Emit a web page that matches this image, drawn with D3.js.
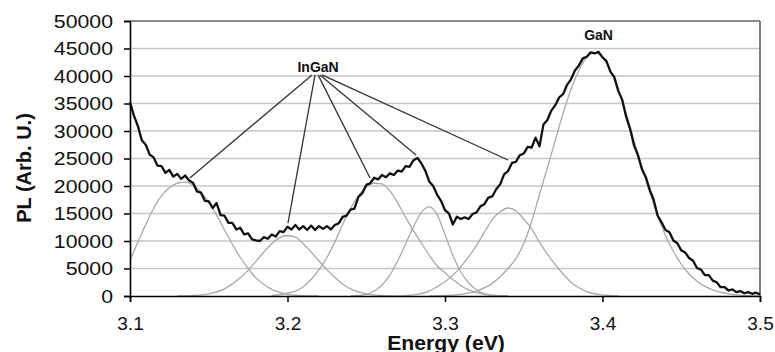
<!DOCTYPE html>
<html>
<head>
<meta charset="utf-8">
<script src="https://cdn.jsdelivr.net/npm/d3@7"></script>
<style>
    body { margin: 0; background: #fff; }
    text { font-family: "Liberation Sans", Arial, sans-serif; }
</style>
</head>
<body>
<div id="chart"></div>
<script>
// measured PL spectrum (black trace)
var measEnergy = [3.1000, 3.1025, 3.1050, 3.1075, 3.1100, 3.1125, 3.1150, 3.1175, 3.1200, 3.1225,
    3.1250, 3.1275, 3.1300, 3.1325, 3.1350, 3.1375, 3.1400, 3.1425, 3.1450, 3.1475,
    3.1500, 3.1525, 3.1550, 3.1575, 3.1600, 3.1625, 3.1650, 3.1675, 3.1700, 3.1725,
    3.1750, 3.1775, 3.1800, 3.1825, 3.1850, 3.1875, 3.1900, 3.1925, 3.1950, 3.1975,
    3.2000, 3.2025, 3.2050, 3.2075, 3.2100, 3.2125, 3.2150, 3.2175, 3.2200, 3.2225,
    3.2250, 3.2275, 3.2300, 3.2325, 3.2350, 3.2375, 3.2400, 3.2425, 3.2450, 3.2475,
    3.2500, 3.2525, 3.2550, 3.2575, 3.2600, 3.2625, 3.2650, 3.2675, 3.2700, 3.2725,
    3.2750, 3.2775, 3.2800, 3.2825, 3.2850, 3.2875, 3.2900, 3.2925, 3.2950, 3.2975,
    3.3000, 3.3025, 3.3050, 3.3075, 3.3100, 3.3125, 3.3150, 3.3175, 3.3200, 3.3225,
    3.3250, 3.3275, 3.3300, 3.3325, 3.3350, 3.3375, 3.3400, 3.3425, 3.3450, 3.3475,
    3.3500, 3.3525, 3.3550, 3.3575, 3.3600, 3.3625, 3.3650, 3.3675, 3.3700, 3.3725,
    3.3750, 3.3775, 3.3800, 3.3825, 3.3850, 3.3875, 3.3900, 3.3925, 3.3950, 3.3975,
    3.4000, 3.4025, 3.4050, 3.4075, 3.4100, 3.4125, 3.4150, 3.4175, 3.4200, 3.4225,
    3.4250, 3.4275, 3.4300, 3.4325, 3.4350, 3.4375, 3.4400, 3.4425, 3.4450, 3.4475,
    3.4500, 3.4525, 3.4550, 3.4575, 3.4600, 3.4625, 3.4650, 3.4675, 3.4700, 3.4725,
    3.4750, 3.4775, 3.4800, 3.4825, 3.4850, 3.4875, 3.4900, 3.4925, 3.4950, 3.4975,
    3.5000];
var measPL = [35200, 32800, 30900, 28300, 27500, 25700, 25200, 23700, 23600, 22400,
    22900, 21700, 22200, 21300, 21900, 21000, 20600, 19000, 18800, 17300,
    17200, 16000, 16900, 14700, 14600, 13300, 13300, 12100, 12400, 11200,
    11400, 10300, 10100, 10000, 10700, 10400, 11200, 10800, 11800, 11600,
    12600, 12100, 12900, 12100, 12700, 12000, 12800, 12000, 12700, 12200,
    12700, 12100, 12900, 13200, 14400, 14600, 15700, 15900, 18000, 18700,
    20200, 20500, 21500, 21200, 22000, 21600, 22300, 22000, 22800, 22600,
    23600, 23500, 24700, 25100, 24100, 22800, 20800, 20000, 18400, 17300,
    15600, 15000, 13000, 14400, 14000, 14300, 14000, 14900, 15200, 16300,
    16700, 17900, 18100, 19400, 20300, 22100, 22700, 24200, 24400, 25600,
    25900, 27100, 27000, 28800, 27200, 31200, 32000, 33700, 34700, 36100,
    36700, 38400, 39400, 41000, 41900, 43200, 43500, 44300, 44100, 44400,
    43400, 42700, 40800, 39800, 37300, 35700, 32600, 30400, 27400, 25600,
    23100, 21600, 19300, 17500, 14600, 13400, 12000, 11600, 10100, 9600,
    8300, 7900, 6900, 6400, 5100, 4800, 3800, 3800, 2800, 2500,
    1600, 1600, 1000, 1200, 700, 900, 500, 700, 400, 600,
    300];

// fitted peaks (grey)
var g1Energy = [3.100, 3.105, 3.110, 3.115, 3.120, 3.125, 3.130, 3.135, 3.140, 3.145, 3.150, 3.155,
    3.160, 3.165, 3.170, 3.175, 3.180, 3.185, 3.190, 3.195, 3.200, 3.210, 3.220];
var g1PL = [6500, 9800, 13000, 15900, 18200, 19700, 20500, 20700, 20200, 18900, 17000, 14700,
    12000, 9400, 7000, 5000, 3300, 2100, 1200, 650, 300, 60, 0];

var g2Energy = [3.130, 3.140, 3.150, 3.160, 3.170, 3.175, 3.180, 3.185, 3.190, 3.195, 3.200,
    3.205, 3.210, 3.215, 3.220, 3.225, 3.230, 3.235, 3.240, 3.250, 3.260, 3.270];
var g2PL = [0, 100, 400, 1300, 3300, 4700, 6300, 8000, 9500, 10600, 11000,
    10700, 9500, 8000, 6400, 4800, 3400, 2200, 1300, 400, 100, 0];

var g3Energy = [3.190, 3.200, 3.205, 3.210, 3.215, 3.220, 3.225, 3.230, 3.235, 3.240, 3.245, 3.250,
    3.255, 3.260, 3.265, 3.270, 3.275, 3.280, 3.285, 3.290, 3.295, 3.300, 3.305, 3.310,
    3.315, 3.320, 3.330, 3.340];
var g3PL = [100, 500, 900, 1700, 3000, 4800, 7000, 9800, 13000, 15900, 18200, 19800,
    20500, 20400, 19100, 16900, 14300, 11900, 9600, 7400, 5500, 4200, 3000, 1900,
    1100, 600, 100, 0];

var g4Energy = [3.240, 3.250, 3.255, 3.260, 3.265, 3.270, 3.275, 3.280, 3.285, 3.290, 3.295,
    3.300, 3.305, 3.310, 3.315, 3.320, 3.325, 3.330, 3.340];
var g4PL = [0, 300, 900, 2000, 3800, 6400, 9500, 12600, 15200, 16200, 14800,
    11200, 7400, 4400, 2400, 1100, 450, 150, 0];

var g5Energy = [3.270, 3.280, 3.290, 3.295, 3.300, 3.305, 3.310, 3.315, 3.320, 3.325, 3.330, 3.335,
    3.340, 3.345, 3.350, 3.355, 3.360, 3.365, 3.370, 3.375, 3.380, 3.385, 3.390, 3.400, 3.410];
var g5PL = [0, 200, 900, 1700, 2600, 3800, 5300, 7100, 9200, 11600, 13900, 15300,
    16000, 15500, 14000, 12200, 9800, 7600, 5700, 4000, 2500, 1500, 800, 200, 0];

var g6Energy = [3.290, 3.300, 3.310, 3.320, 3.330, 3.335, 3.340, 3.345, 3.350, 3.355, 3.360, 3.365,
    3.370, 3.375, 3.380, 3.385, 3.390, 3.395, 3.400, 3.405, 3.410, 3.415, 3.420, 3.425,
    3.430, 3.435, 3.440, 3.445, 3.450, 3.455, 3.460, 3.470, 3.480, 3.490, 3.500];
var g6PL = [0, 100, 300, 900, 2300, 3500, 5000, 6800, 9500, 13500, 18500, 23300,
    28300, 33200, 37600, 41000, 43400, 44200, 43400, 41000, 37600, 33200, 28300, 23500,
    18800, 14600, 11000, 8100, 5800, 4000, 2700, 1100, 400, 120, 30];

// axis ticks
var xTicks = [3.1, 3.2, 3.3, 3.4, 3.5];
var yTicks = [0, 5000, 10000, 15000, 20000, 25000, 30000, 35000, 40000, 45000, 50000];

// annotation lines: InGaN label -> peak positions
var ingaStartE = [3.2156, 3.2175, 3.2194, 3.2206, 3.2219];
var ingaStartPL = [40200, 40200, 40200, 40200, 40200];
var ingaEndE = [3.138, 3.2003, 3.2524, 3.2816, 3.340];
var ingaEndPL = [21450, 13270, 21450, 25640, 24730];

function drawChart() {
    var margin = {top: 21, right: 15, bottom: 56, left: 130},
        width = 775 - margin.left - margin.right,
        height = 352 - margin.top - margin.bottom;

    var svg = d3.select("#chart")
        .append("svg")
        .attr("width", 775)
        .attr("height", 352)
        .append("g")
        .attr("transform", "translate(" + margin.left + "," + margin.top + ")");

    var x = d3.scaleLinear()
        .domain([3.1, 3.5])
        .range([0, width]);
    var y = d3.scaleLinear()
        .domain([0, 50000])
        .range([height, 0]);

    // horizontal grid
    svg.append("g")
        .selectAll("line")
        .data(yTicks.filter(function(d) { return d > 0 && d < 50000; }))
        .enter()
        .append("line")
        .attr("x1", 0)
        .attr("x2", width)
        .attr("y1", function(d) { return y(d); })
        .attr("y2", function(d) { return y(d); })
        .style("stroke", "#c6c6c6")
        .style("stroke-width", 1.6);

    // top and right frame
    svg.append("line")
        .attr("x1", 0).attr("x2", width)
        .attr("y1", y(50000)).attr("y2", y(50000))
        .style("stroke", "#666")
        .style("stroke-width", 1.6);
    svg.append("line")
        .attr("x1", x(3.5)).attr("x2", x(3.5))
        .attr("y1", y(50000)).attr("y2", y(0))
        .style("stroke", "#555")
        .style("stroke-width", 1.5);

    // grey fitted peaks
    var peaks = [
        [g1Energy, g1PL], [g2Energy, g2PL], [g3Energy, g3PL],
        [g4Energy, g4PL], [g5Energy, g5PL], [g6Energy, g6PL]
    ];
    var peakLine = d3.line()
        .x(function(d) { return x(d[0]); })
        .y(function(d) { return y(d[1]); })
        .curve(d3.curveMonotoneX);
    peaks.forEach(function(p) {
        var pts = p[0].map(function(e, i) { return [e, p[1][i]]; });
        svg.append("path")
            .datum(pts)
            .attr("d", peakLine)
            .style("fill", "none")
            .style("stroke", "#a9a9a9")
            .style("stroke-width", 1.3);
    });

    // measured spectrum
    var measPts = measEnergy.map(function(e, i) { return [e, measPL[i]]; });
    svg.append("path")
        .datum(measPts)
        .attr("d", d3.line()
            .x(function(d) { return x(d[0]); })
            .y(function(d) { return y(d[1]); }))
        .style("fill", "none")
        .style("stroke", "#111")
        .style("stroke-width", 2.3)
        .style("stroke-linejoin", "round");

    // InGaN pointer lines
    svg.append("g")
        .selectAll("line")
        .data(ingaEndE)
        .enter()
        .append("line")
        .attr("x1", function(d, i) { return x(ingaStartE[i]); })
        .attr("y1", function(d, i) { return y(ingaStartPL[i]); })
        .attr("x2", function(d) { return x(d); })
        .attr("y2", function(d, i) { return y(ingaEndPL[i]); })
        .style("stroke", "#333")
        .style("stroke-width", 1.3);

    svg.append("text")
        .attr("x", x(3.2194))
        .attr("y", y(40700))
        .attr("text-anchor", "middle")
        .style("font-size", "14px")
        .style("font-weight", "bold")
        .style("fill", "#111")
        .text("InGaN");
    svg.append("text")
        .attr("x", x(3.3975))
        .attr("y", y(46500))
        .attr("text-anchor", "middle")
        .style("font-size", "14px")
        .style("font-weight", "bold")
        .style("fill", "#111")
        .text("GaN");

    // x axis
    var xAxis = svg.append("g")
        .attr("transform", "translate(0," + height + ")")
        .call(d3.axisBottom(x).tickValues(xTicks).tickSize(6).tickFormat(d3.format(".1f")));
    xAxis.select(".domain").style("stroke", "#000").style("stroke-width", 1.6);
    xAxis.selectAll(".tick line").style("stroke", "#000").style("stroke-width", 1.5);
    xAxis.selectAll(".tick text")
        .attr("y", 21)
        .style("font-size", "19px")
        .style("fill", "#111")
        .style("font-family", "'Liberation Sans', Arial, sans-serif");

    // y axis
    var yAxis = svg.append("g")
        .call(d3.axisLeft(y).tickValues(yTicks).tickSize(6).tickFormat(d3.format("d")));
    yAxis.select(".domain").style("stroke", "#000").style("stroke-width", 1.6);
    yAxis.selectAll(".tick line").style("stroke", "#000").style("stroke-width", 1.5);
    yAxis.selectAll(".tick text")
        .attr("x", -15.2)
        .attr("transform", "scale(1.12,1)")
        .style("font-size", "19px")
        .style("fill", "#111")
        .style("font-family", "'Liberation Sans', Arial, sans-serif");

    // axis titles
    svg.append("text")
        .attr("transform", "translate(" + (446 - margin.left) + "," + (350 - margin.top) + ") scale(1.06,1)")
        .attr("text-anchor", "middle")
        .style("font-size", "20px")
        .style("font-weight", "bold")
        .style("fill", "#111")
        .text("Energy (eV)");
    svg.append("text")
        .attr("transform", "translate(" + (31 - margin.left) + "," + (168 - margin.top) + ") rotate(-90)")
        .attr("text-anchor", "middle")
        .style("font-size", "20px")
        .style("font-weight", "bold")
        .style("fill", "#111")
        .text("PL (Arb. U.)");
}

drawChart();
</script>
</body>
</html>
